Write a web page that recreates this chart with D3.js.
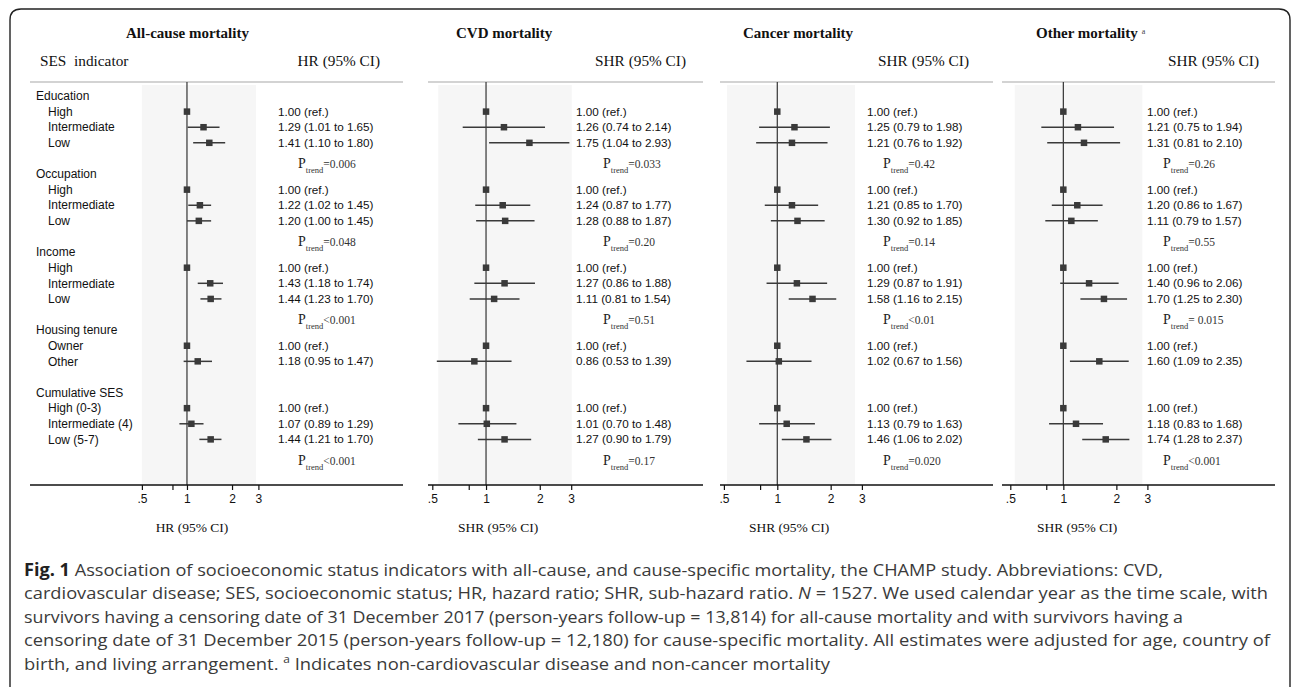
<!DOCTYPE html>
<html lang="en">
<head>
<meta charset="UTF-8" />
<title>SES indicators and mortality - forest plot</title>
<script src="https://d3js.org/d3.v7.min.js"></script>
<style>
  body { margin: 0; background: #fff; }
  svg { display: block; }
  .serif { font-family: "Liberation Serif", "Times New Roman", serif; }
  .sans { font-family: "Liberation Sans", Arial, sans-serif; }
  .cap { font-family: "Open Sans", "Noto Sans", sans-serif; }
</style>
</head>
<body>
<svg width="1292" height="687"></svg>
<script>
// SES groups and their levels (row order top to bottom)
const groups = ["Education", "Occupation", "Income", "Housing tenure", "Cumulative SES"];
const levels = [
  ["High", "Intermediate", "Low"],
  ["High", "Intermediate", "Low"],
  ["High", "Intermediate", "Low"],
  ["Owner", "Other"],
  ["High (0-3)", "Intermediate (4)", "Low (5-7)"]
];

// estimates per outcome, 14 rows in the order above (null = reference)
const allCauseEst = [1.00, 1.29, 1.41, 1.00, 1.22, 1.20, 1.00, 1.43, 1.44, 1.00, 1.18, 1.00, 1.07, 1.44];
const allCauseLo  = [null, 1.01, 1.10, null, 1.02, 1.00, null, 1.18, 1.23, null, 0.95, null, 0.89, 1.21];
const allCauseHi  = [null, 1.65, 1.80, null, 1.45, 1.45, null, 1.74, 1.70, null, 1.47, null, 1.29, 1.70];
const allCauseP   = ["=0.006", "=0.048", "<0.001", null, "<0.001"];

const cvdEst = [1.00, 1.26, 1.75, 1.00, 1.24, 1.28, 1.00, 1.27, 1.11, 1.00, 0.86, 1.00, 1.01, 1.27];
const cvdLo  = [null, 0.74, 1.04, null, 0.87, 0.88, null, 0.86, 0.81, null, 0.53, null, 0.70, 0.90];
const cvdHi  = [null, 2.14, 2.93, null, 1.77, 1.87, null, 1.88, 1.54, null, 1.39, null, 1.48, 1.79];
const cvdP   = ["=0.033", "=0.20", "=0.51", null, "=0.17"];

const cancerEst = [1.00, 1.25, 1.21, 1.00, 1.21, 1.30, 1.00, 1.29, 1.58, 1.00, 1.02, 1.00, 1.13, 1.46];
const cancerLo  = [null, 0.79, 0.76, null, 0.85, 0.92, null, 0.87, 1.16, null, 0.67, null, 0.79, 1.06];
const cancerHi  = [null, 1.98, 1.92, null, 1.70, 1.85, null, 1.91, 2.15, null, 1.56, null, 1.63, 2.02];
const cancerP   = ["=0.42", "=0.14", "<0.01", null, "=0.020"];

const otherEst = [1.00, 1.21, 1.31, 1.00, 1.20, 1.11, 1.00, 1.40, 1.70, 1.00, 1.60, 1.00, 1.18, 1.74];
const otherLo  = [null, 0.75, 0.81, null, 0.86, 0.79, null, 0.96, 1.25, null, 1.09, null, 0.83, 1.28];
const otherHi  = [null, 1.94, 2.10, null, 1.67, 1.57, null, 2.06, 2.30, null, 2.35, null, 1.68, 2.37];
const otherP   = ["=0.26", "=0.55", "= 0.015", null, "<0.001"];

const tickValues = [0.5, 0.8, 1, 2, 3];
const tickLabels = [".5", "", "1", "2", "3"];

const captionLines = [
  [["Fig. 1", "b"], [" Association of socioeconomic status indicators with all-cause, and cause-specific mortality, the CHAMP study. Abbreviations: CVD,", ""]],
  [["cardiovascular disease; SES, socioeconomic status; HR, hazard ratio; SHR, sub-hazard ratio. ", ""], ["N", "i"], [" = 1527. We used calendar year as the time scale, with", ""]],
  [["survivors having a censoring date of 31 December 2017 (person-years follow-up = 13,814) for all-cause mortality and with survivors having a", ""]],
  [["censoring date of 31 December 2015 (person-years follow-up = 12,180) for cause-specific mortality. All estimates were adjusted for age, country of", ""]],
  [["birth, and living arrangement. ", ""], ["a", "sup"], [" Indicates non-cardiovascular disease and non-cancer mortality", ""]]
];

// layout of each panel
const panels = [
  { title: "All-cause mortality", sup: "", head: "HR (95% CI)", axisTitle: "HR (95% CI)",
    est: allCauseEst, lo: allCauseLo, hi: allCauseHi, p: allCauseP,
    rule: [30, 403], range: [141.9, 258.4], band: [0.5, 2.89],
    titleX: 126, headX: 380, estX: 278, pX: 298, axisTitleX: 192 },
  { title: "CVD mortality", sup: "", head: "SHR (95% CI)", axisTitle: "SHR (95% CI)",
    est: cvdEst, lo: cvdLo, hi: cvdHi, p: cvdP,
    rule: [428, 703], range: [432.3, 571.2], band: [0.54, 3.02],
    titleX: 456, headX: 686, estX: 576, pX: 603, axisTitleX: 498 },
  { title: "Cancer mortality", sup: "", head: "SHR (95% CI)", axisTitle: "SHR (95% CI)",
    est: cancerEst, lo: cancerLo, hi: cancerHi, p: cancerP,
    rule: [720, 993], range: [723.9, 861.9], band: [0.52, 2.74],
    titleX: 743, headX: 969, estX: 867, pX: 883, axisTitleX: 789 },
  { title: "Other mortality", sup: "a", head: "SHR (95% CI)", axisTitle: "SHR (95% CI)",
    est: otherEst, lo: otherLo, hi: otherHi, p: otherP,
    rule: [1002, 1275], range: [1010.3, 1147.4], band: [0.53, 2.81],
    titleX: 1036, headX: 1259, estX: 1147, pX: 1163, axisTitleX: 1077 }
];

const svg = d3.select("svg");
const ruleY = 82, axisY = 485;

// build row list: group header, levels, then a p-trend row
const rows = [];
let r = 0, k = 0;
groups.forEach((g, gi) => {
  rows.push({ type: "group", label: g, row: r++ });
  levels[gi].forEach(l => rows.push({ type: "level", label: l, row: r++, idx: k++ }));
  rows.push({ type: "p", gi: gi, row: r++ });
});

const y = d3.scaleLinear().domain([0, r - 1]).range([96, 455]);

// outer rounded frame
svg.append("path")
  .attr("d", "M10,700 V20 Q10,9 21,9 H1279 Q1290,9 1290,20 V700")
  .attr("fill", "none").attr("stroke", "#222").attr("stroke-width", 1.4);

// left column labels
svg.append("text").attr("class", "serif").attr("x", 40).attr("y", 66)
  .attr("font-size", 15.3).attr("fill", "#111").attr("xml:space", "preserve").text("SES  indicator");

svg.selectAll("text.rowlab")
  .data(rows.filter(d => d.type !== "p"))
  .enter().append("text")
  .attr("class", "rowlab sans")
  .attr("x", d => d.type === "group" ? 36 : 48)
  .attr("y", d => y(d.row))
  .attr("dy", "0.35em")
  .attr("font-size", 12)
  .attr("fill", "#111")
  .text(d => d.label);

const fmt = d3.format(".2f");

panels.forEach(p => {
  const x = d3.scaleLog().domain([0.5, 3]).range(p.range);
  const g = svg.append("g");
  const lvl = rows.filter(d => d.type === "level");

  g.append("rect")
    .attr("x", x(p.band[0])).attr("width", x(p.band[1]) - x(p.band[0]))
    .attr("y", 85).attr("height", axisY - 85)
    .attr("fill", "#f6f6f6");

  g.append("line")
    .attr("x1", p.rule[0]).attr("x2", p.rule[1]).attr("y1", ruleY).attr("y2", ruleY)
    .attr("stroke", "#c4c4c4").attr("stroke-width", 1.4);

  g.append("line")
    .attr("x1", x(1)).attr("x2", x(1)).attr("y1", ruleY).attr("y2", axisY)
    .attr("stroke", "#333").attr("stroke-width", 1.2);

  // confidence intervals
  g.selectAll("line.ci")
    .data(lvl.filter(d => p.lo[d.idx] != null))
    .enter().append("line")
    .attr("class", "ci")
    .attr("x1", d => x(p.lo[d.idx])).attr("x2", d => x(p.hi[d.idx]))
    .attr("y1", d => y(d.row)).attr("y2", d => y(d.row))
    .attr("stroke", "#3a3a3a").attr("stroke-width", 1.5);

  // point estimates
  g.selectAll("rect.pt")
    .data(lvl)
    .enter().append("rect")
    .attr("class", "pt")
    .attr("x", d => x(p.est[d.idx]) - 3.25).attr("y", d => y(d.row) - 3.25)
    .attr("width", 6.5).attr("height", 6.5)
    .attr("fill", "#3a3a3a");

  // estimate text
  g.selectAll("text.est")
    .data(lvl)
    .enter().append("text")
    .attr("class", "est sans")
    .attr("x", p.estX).attr("y", d => y(d.row)).attr("dy", "0.35em")
    .attr("font-size", 11.7).attr("fill", "#111")
    .text(d => p.lo[d.idx] == null ? fmt(p.est[d.idx]) + " (ref.)"
      : `${fmt(p.est[d.idx])} (${fmt(p.lo[d.idx])} to ${fmt(p.hi[d.idx])})`);

  // p for trend
  rows.filter(d => d.type === "p" && p.p[d.gi] != null).forEach(d => {
    const t = g.append("text").attr("class", "serif")
      .attr("x", p.pX).attr("y", y(d.row) + 9.5).attr("fill", "#222")
      .attr("xml:space", "preserve");
    t.append("tspan").attr("font-size", 14).text("P");
    t.append("tspan").attr("font-size", 8.5).attr("dy", 5).attr("fill", "#333").text("trend");
    t.append("tspan").attr("font-size", 11.5).attr("dy", -5).attr("fill", "#333").text(p.p[d.gi]);
  });

  // headers
  const tt = g.append("text").attr("class", "serif")
    .attr("x", p.titleX).attr("y", 38)
    .attr("font-size", 15).attr("font-weight", "bold").attr("fill", "#111")
    .text(p.title);
  if (p.sup) tt.append("tspan").attr("font-size", 8).attr("font-weight", "normal")
    .attr("dx", 4).attr("dy", -4).attr("fill", "#444").text(p.sup);

  g.append("text").attr("class", "serif")
    .attr("x", p.headX).attr("y", 66).attr("text-anchor", "end")
    .attr("font-size", 15.3).attr("fill", "#111").text(p.head);

  // x axis
  g.append("line")
    .attr("x1", p.rule[0]).attr("x2", p.rule[1]).attr("y1", axisY).attr("y2", axisY)
    .attr("stroke", "#111").attr("stroke-width", 1.5);

  const ax = g.append("g")
    .attr("transform", `translate(0,${axisY})`)
    .call(d3.axisBottom(x).tickValues(tickValues).tickSize(5).tickPadding(4)
      .tickFormat((d, i) => tickLabels[i]));
  ax.select(".domain").remove();
  ax.selectAll(".tick line").attr("stroke", "#111").attr("stroke-width", 1.2);
  ax.selectAll(".tick text").attr("font-family", "Liberation Sans, Arial, sans-serif")
    .attr("font-size", 12).attr("fill", "#111");

  g.append("text").attr("class", "serif")
    .attr("x", p.axisTitleX).attr("y", 532).attr("text-anchor", "middle")
    .attr("font-size", 13.5).attr("fill", "#111").text(p.axisTitle);
});

// caption
const capEnds = [1163, 1268, 1183, 1270, 830];
captionLines.forEach((line, i) => {
  const t = svg.append("text").attr("class", "cap")
    .attr("x", 24).attr("y", 576 + i * 23.4)
    .attr("font-size", 17).attr("fill", "#3a3a3a");
  line.forEach(([s, st]) => {
    const ts = t.append("tspan").text(s);
    if (st === "b") ts.attr("font-weight", "bold").attr("fill", "#222");
    if (st === "i") ts.attr("font-style", "italic");
    if (st === "sup") ts.attr("font-size", 11).attr("baseline-shift", "super");
  });
  t.attr("textLength", capEnds[i] - 24).attr("lengthAdjust", "spacingAndGlyphs");
});
</script>
</body>
</html>
